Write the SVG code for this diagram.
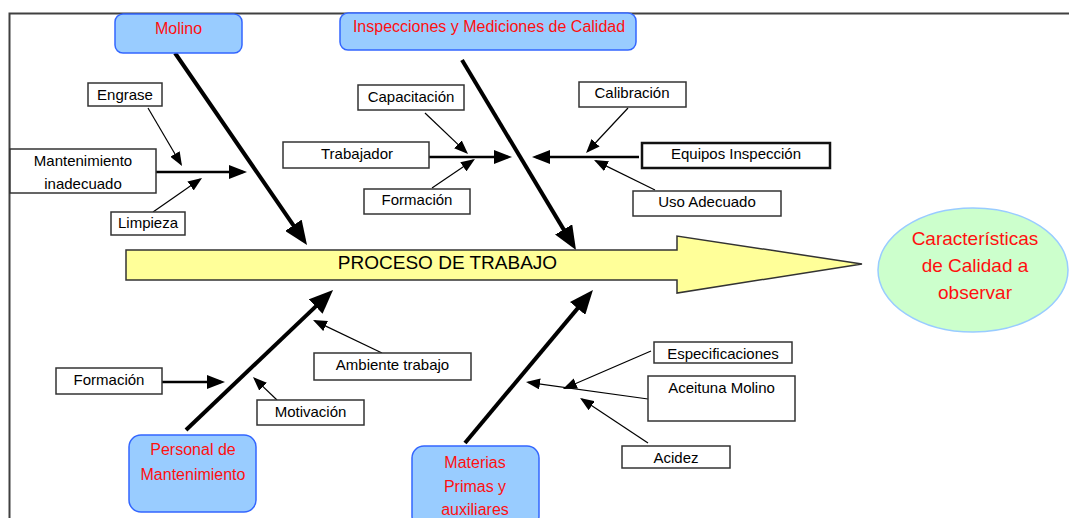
<svg xmlns="http://www.w3.org/2000/svg" width="1069" height="518" viewBox="0 0 1069 518">
<style>
.box{fill:#fff;stroke:#333;stroke-width:1.5}
.cat{fill:#99ccff;stroke:#3366ff;stroke-width:1.5}
.lbl{font-family:"Liberation Sans",Arial,sans-serif;font-size:15px;fill:#000;text-anchor:middle}
.red{font-family:"Liberation Sans",Arial,sans-serif;font-size:16px;fill:#ff1010;text-anchor:middle}
.big{stroke:#000;stroke-width:4;fill:none}
.mid{stroke:#000;stroke-width:2.5;fill:none}
.thin{stroke:#000;stroke-width:1.2;fill:none}
</style>
<defs>
<marker id="hb" markerUnits="userSpaceOnUse" viewBox="0 0 24 20" refX="18" refY="10" markerWidth="24" markerHeight="20" orient="auto"><path d="M0,0 L24,10 L0,20 z" fill="#000"/></marker>
<marker id="hm" markerUnits="userSpaceOnUse" viewBox="0 0 18 14" refX="14" refY="7" markerWidth="18" markerHeight="14" orient="auto"><path d="M0,0 L18,7 L0,14 z" fill="#000"/></marker>
<marker id="hs" markerUnits="userSpaceOnUse" viewBox="0 0 14 11" refX="12" refY="5.5" markerWidth="14" markerHeight="11" orient="auto"><path d="M0,0 L14,5.5 L0,11 z" fill="#000"/></marker>
</defs>
<rect width="1069" height="518" fill="#fff"/>
<g id="frame"><path d="M9.5,518 V13.5 H1069" fill="none" stroke="#404040" stroke-width="2"/></g>

<g id="connectors">
<line class="big" x1="175" y1="53" x2="303.6" y2="240.1" marker-end="url(#hb)"/>
<line class="big" x1="462" y1="60" x2="572.9" y2="244.9" marker-end="url(#hb)"/>
<line class="big" x1="186" y1="430" x2="328.7" y2="294.1" marker-end="url(#hb)"/>
<line class="big" x1="465" y1="443" x2="589.1" y2="294.6" marker-end="url(#hb)"/>
<line class="mid" x1="156" y1="172" x2="243" y2="172" marker-end="url(#hm)"/>
<line class="mid" x1="429" y1="157" x2="508" y2="157" marker-end="url(#hm)"/>
<line class="mid" x1="639" y1="157" x2="536" y2="157" marker-end="url(#hm)"/>
<line class="mid" x1="162" y1="382" x2="221" y2="382" marker-end="url(#hm)"/>
<line class="thin" x1="148" y1="108" x2="181" y2="164.3" marker-end="url(#hs)"/>
<line class="thin" x1="153" y1="212" x2="200.4" y2="179.1" marker-end="url(#hs)"/>
<line class="thin" x1="425" y1="113" x2="466.6" y2="152.6" marker-end="url(#hs)"/>
<line class="thin" x1="432" y1="188" x2="473.3" y2="160.1" marker-end="url(#hs)"/>
<line class="thin" x1="628" y1="108" x2="587.4" y2="151.5" marker-end="url(#hs)"/>
<line class="thin" x1="655" y1="190" x2="595.8" y2="160.9" marker-end="url(#hs)"/>
<line class="thin" x1="382" y1="353" x2="314.8" y2="320.9" marker-end="url(#hs)"/>
<line class="thin" x1="277" y1="400" x2="254.4" y2="378.4" marker-end="url(#hs)"/>
<line class="thin" x1="648" y1="399" x2="528" y2="382.3" marker-end="url(#hs)"/>
<line class="thin" x1="651" y1="351" x2="564.8" y2="388.2" marker-end="url(#hs)"/>
<line class="thin" x1="648" y1="443" x2="581.7" y2="399.1" marker-end="url(#hs)"/>
</g>

<g id="proceso">
<polygon points="126,250 677,250 677,236 862,264 677,293 677,280 126,280" fill="#ffff99" stroke="#333" stroke-width="1.5"/>
<text x="447.5" y="269" font-family="'Liberation Sans',Arial,sans-serif" font-size="19" text-anchor="middle" fill="#000">PROCESO DE TRABAJO</text>
</g>

<g id="caracteristicas">
<ellipse cx="973" cy="270" rx="95" ry="62" fill="#ccffcc" stroke="#99ccff" stroke-width="1.5"/>
<text x="975" y="245" font-family="'Liberation Sans',Arial,sans-serif" font-size="19" text-anchor="middle" fill="#ff1010">Características</text>
<text x="975" y="272" font-family="'Liberation Sans',Arial,sans-serif" font-size="19" text-anchor="middle" fill="#ff1010">de Calidad a</text>
<text x="975" y="299" font-family="'Liberation Sans',Arial,sans-serif" font-size="19" text-anchor="middle" fill="#ff1010">observar</text>
</g>

<g id="molino"><rect class="cat" x="115" y="14" width="127" height="39" rx="8"/><text class="red" x="178.5" y="34">Molino</text></g>
<g id="inspecciones"><rect class="cat" x="340" y="13" width="296" height="37" rx="8"/><text class="red" x="489" y="32">Inspecciones y Mediciones de Calidad</text></g>
<g id="personal"><rect class="cat" x="129" y="435" width="127" height="77" rx="12"/><text class="red" x="193" y="455">Personal de</text><text class="red" x="193" y="480">Mantenimiento</text></g>
<g id="materias"><rect class="cat" x="412" y="446" width="127" height="82" rx="12"/><text class="red" x="475" y="468">Materias</text><text class="red" x="475" y="492">Primas y</text><text class="red" x="475" y="515">auxiliares</text></g>

<g id="engrase"><rect class="box" x="88" y="83" width="74" height="23"/><text class="lbl" x="125" y="100">Engrase</text></g>
<g id="mantenimiento"><rect class="box" x="10" y="149" width="146" height="44"/><text class="lbl" x="83" y="166">Mantenimiento</text><text class="lbl" x="83" y="189">inadecuado</text></g>
<g id="limpieza"><rect class="box" x="111" y="212" width="74" height="23"/><text class="lbl" x="148" y="228">Limpieza</text></g>
<g id="capacitacion"><rect class="box" x="358" y="85" width="106" height="25"/><text class="lbl" x="411" y="102">Capacitación</text></g>
<g id="trabajador"><rect class="box" x="283" y="142" width="146" height="26"/><text class="lbl" x="357" y="159">Trabajador</text></g>
<g id="formacion1"><rect class="box" x="364" y="189" width="106" height="25"/><text class="lbl" x="417" y="205">Formación</text></g>
<g id="calibracion"><rect class="box" x="579" y="82" width="107" height="25"/><text class="lbl" x="632" y="98">Calibración</text></g>
<g id="equipos"><rect class="box" x="642" y="143" width="188" height="25" style="stroke-width:2.5;stroke:#111"/><text class="lbl" x="736" y="159">Equipos Inspección</text></g>
<g id="uso"><rect class="box" x="633" y="191" width="148" height="25"/><text class="lbl" x="707" y="207">Uso Adecuado</text></g>
<g id="formacion2"><rect class="box" x="56" y="368" width="106" height="26"/><text class="lbl" x="109" y="385">Formación</text></g>
<g id="ambiente"><rect class="box" x="314" y="353" width="157" height="27"/><text class="lbl" x="392.5" y="370">Ambiente trabajo</text></g>
<g id="motivacion"><rect class="box" x="257" y="400" width="107" height="25"/><text class="lbl" x="310.5" y="417">Motivación</text></g>
<g id="especificaciones"><rect class="box" x="654" y="342" width="138" height="21"/><text class="lbl" x="723" y="359">Especificaciones</text></g>
<g id="aceituna"><rect class="box" x="648" y="376" width="147" height="45"/><text class="lbl" x="721.5" y="393">Aceituna Molino</text></g>
<g id="acidez"><rect class="box" x="622" y="446" width="108" height="22"/><text class="lbl" x="676" y="463">Acidez</text></g>
</svg>
